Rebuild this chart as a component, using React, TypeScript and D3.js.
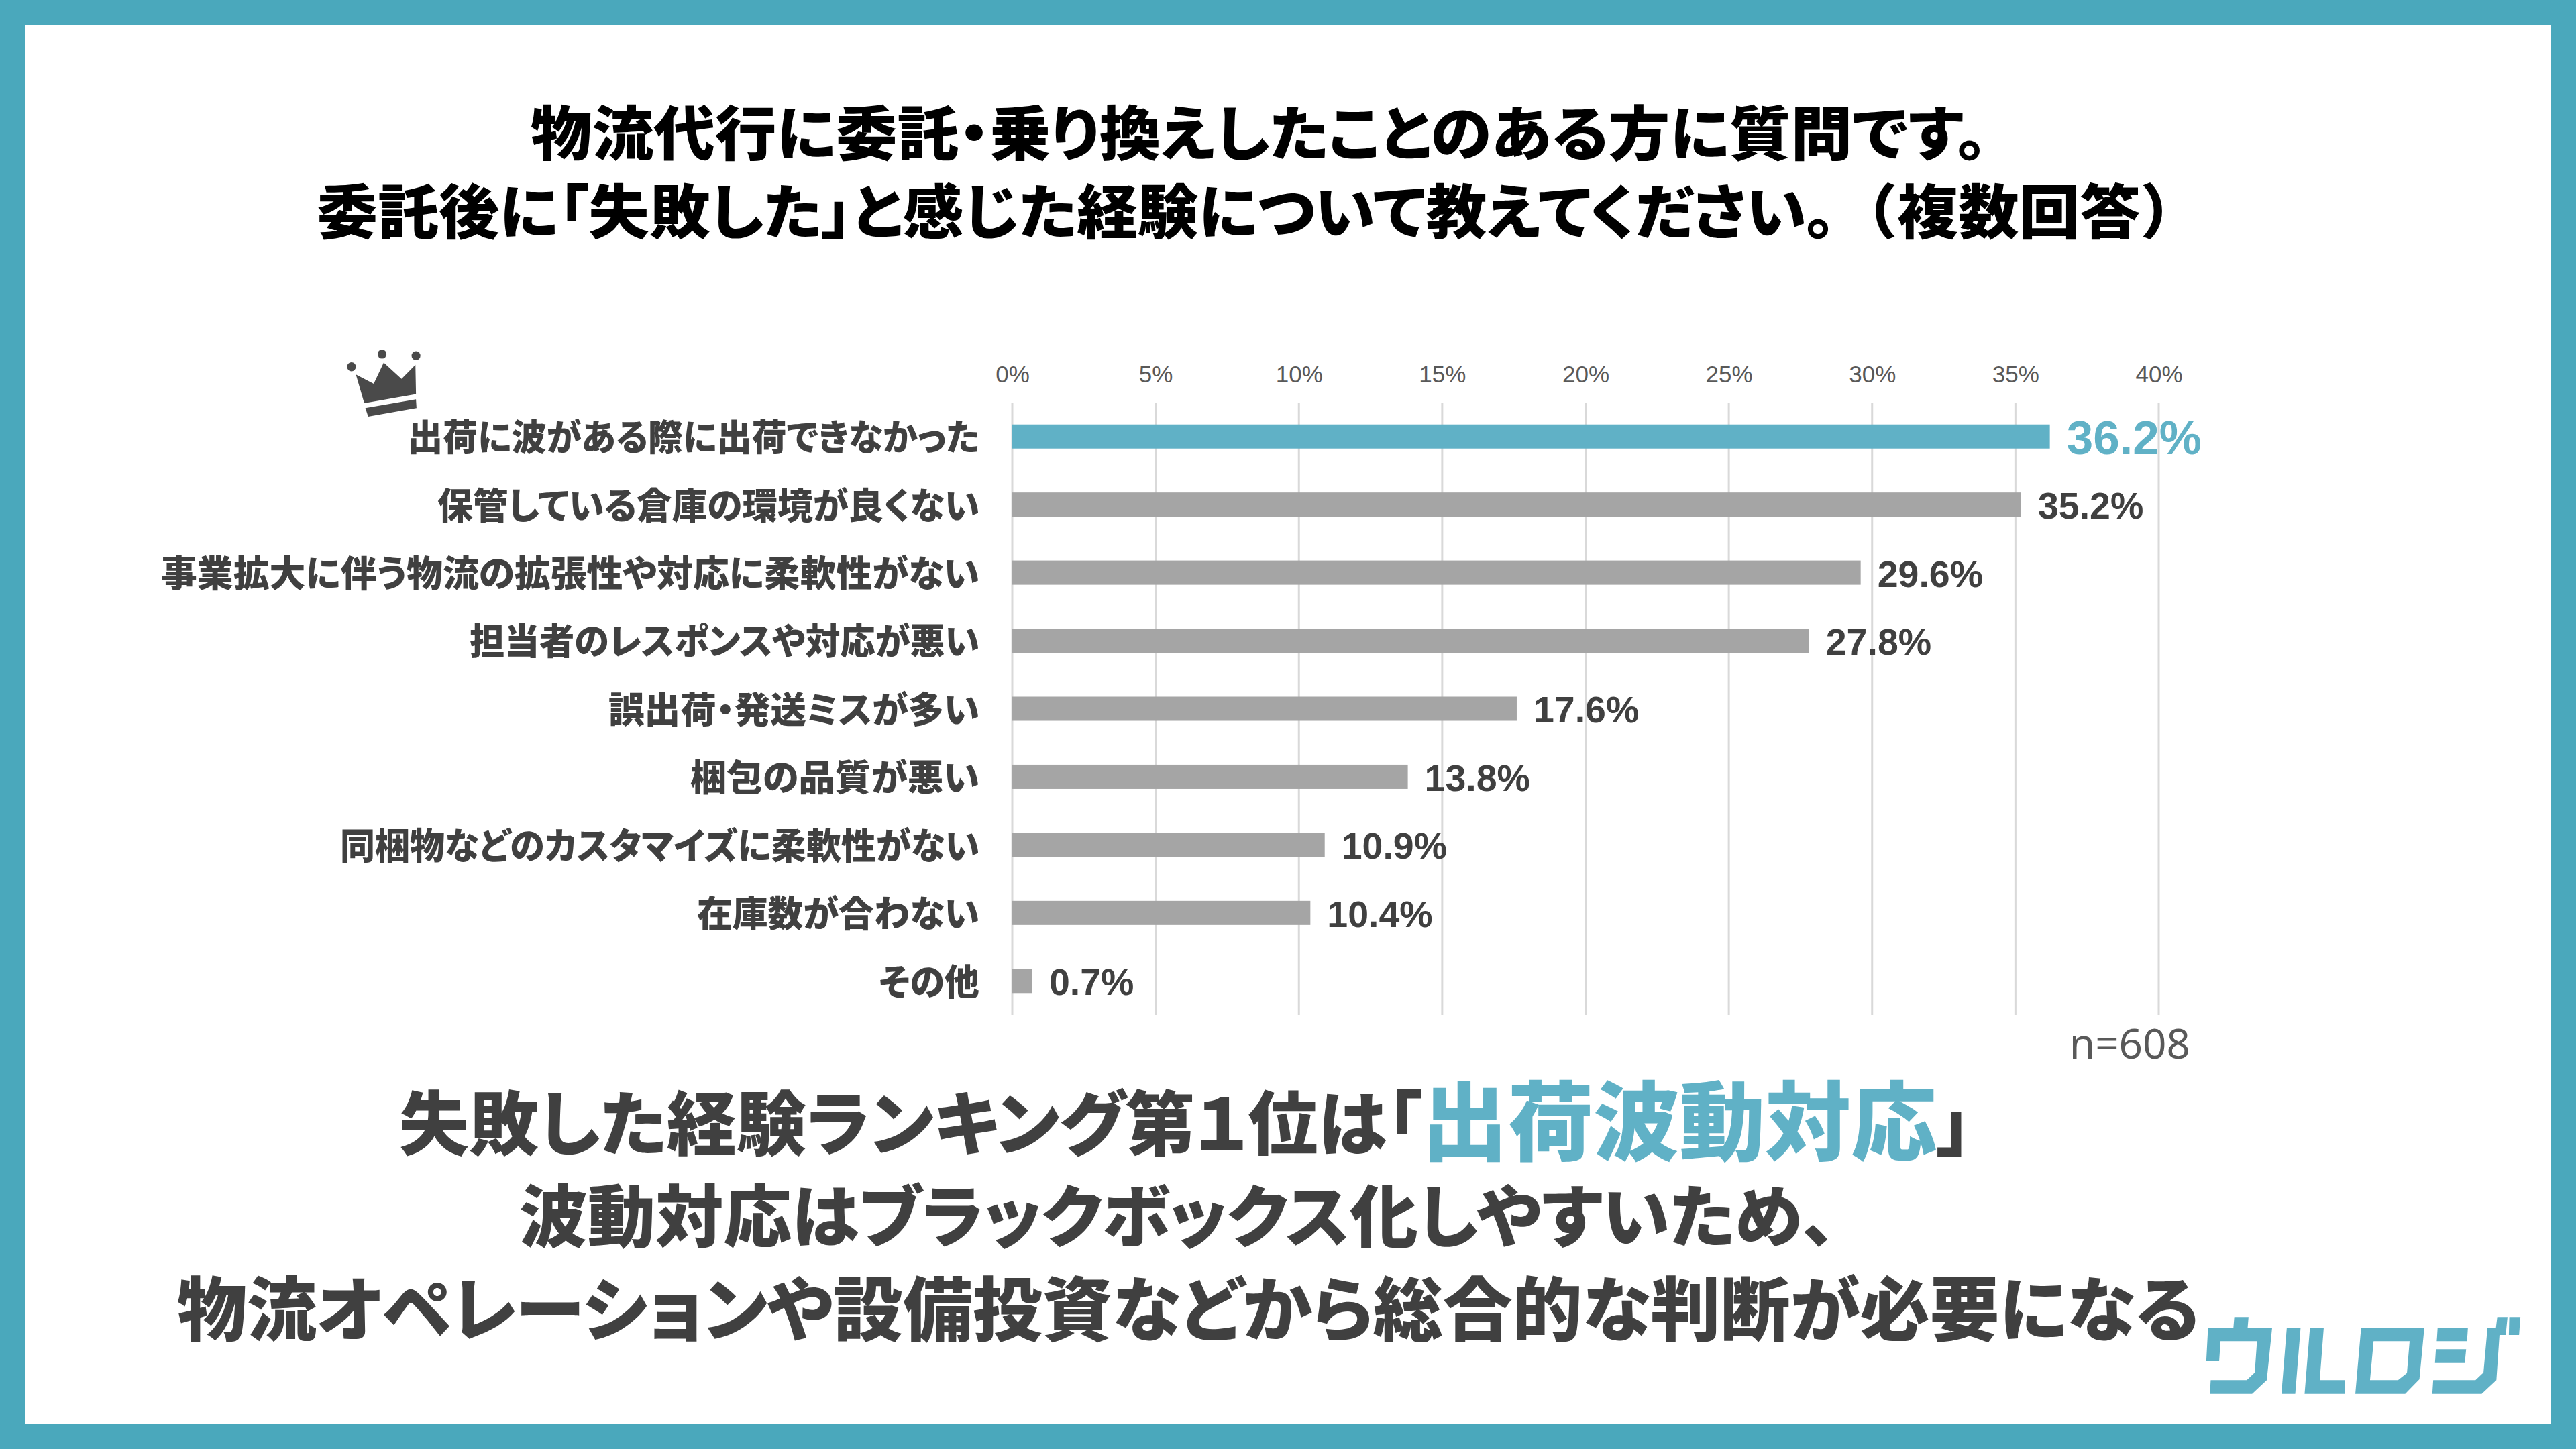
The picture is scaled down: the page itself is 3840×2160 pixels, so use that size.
import React, { useEffect, useRef } from 'react';
import * as d3 from 'd3';

const categories = [
  '出荷に波がある際に出荷できなかった',
  '保管している倉庫の環境が良くない',
  '事業拡大に伴う物流の拡張性や対応に柔軟性がない',
  '担当者のレスポンスや対応が悪い',
  '誤出荷・発送ミスが多い',
  '梱包の品質が悪い',
  '同梱物などのカスタマイズに柔軟性がない',
  '在庫数が合わない',
  'その他',
];
const values = [36.2, 35.2, 29.6, 27.8, 17.6, 13.8, 10.9, 10.4, 0.7];
const ticks = [0, 5, 10, 15, 20, 25, 30, 35, 40];
const titleLines = [
  '物流代行に委託・乗り換えしたことのある方に質問です。',
  '委託後に「失敗した」と感じた経験について教えてください。（複数回答）',
];
const takeaway = [
  '波動対応はブラックボックス化しやすいため、',
  '物流オペレーションや設備投資などから総合的な判断が必要になる',
];
const sampleNote = 'n=608';

// rendered width of each label in the reference, the font runs a bit wider than Noto on kanji
const labelWidths = [852, 808, 1220, 760, 553, 431, 953, 421, 150];

const FRAME = '#4aa8bc';
const ACCENT = '#60b1c6';
const GREY_BAR = '#a5a5a5';
const DARK = '#404040';
const JP = '"Noto Sans CJK JP", "Noto Sans", sans-serif';

const App = () => {
  const svgRef = useRef<SVGSVGElement>(null);

  useEffect(() => {
    document.body.style.margin = '0';
    const svg = d3.select(svgRef.current);
    svg.selectAll('*').remove();

    svg.append('rect').attr('width', 3840).attr('height', 2160).attr('fill', FRAME);
    svg.append('rect').attr('x', 37).attr('y', 37).attr('width', 3766).attr('height', 2085).attr('fill', '#fff');

    // title
    svg.append('text')
      .attr('x', 1877)
      .attr('y', 231)
      .attr('text-anchor', 'middle')
      .attr('textLength', 2172)
      .attr('lengthAdjust', 'spacingAndGlyphs')
      .style('font-family', JP)
      .style('font-weight', 900)
      .style('font-size', '88px')
      .style('font-feature-settings', '"palt"')
      .text(titleLines[0]);
    const title2 = svg.append('text')
      .attr('x', 1877)
      .attr('y', 348)
      .attr('text-anchor', 'middle')
      .attr('textLength', 2809)
      .attr('lengthAdjust', 'spacingAndGlyphs')
      .style('font-family', JP)
      .style('font-weight', 900)
      .style('font-size', '88px');
    title2.append('tspan').style('font-feature-settings', '"palt"').text(titleLines[1].slice(0, -7));
    title2.append('tspan').text(titleLines[1].slice(-7));

    const x = d3.scaleLinear().domain([0, 40]).range([1509, 3218]);
    const y = d3.scaleBand().domain(categories).range([600, 1513]).paddingInner(0.645).paddingOuter(0.3225);

    // axis on top with full-height gridlines
    const axis = svg.append('g')
      .attr('transform', 'translate(0,600)')
      .call(d3.axisTop(x).tickValues(ticks).tickSize(0).tickPadding(30).tickFormat(d => `${d}%`));
    axis.select('.domain').remove();
    axis.selectAll('text')
      .style('font-family', '"Liberation Sans", Arial, sans-serif')
      .style('font-size', '35px')
      .attr('fill', '#595959');

    svg.append('g')
      .selectAll('line')
      .data(ticks)
      .enter()
      .append('line')
      .attr('x1', d => x(d))
      .attr('x2', d => x(d))
      .attr('y1', 601)
      .attr('y2', 1513)
      .attr('stroke', '#d9d9d9')
      .attr('stroke-width', 3);

    // bars
    svg.append('g')
      .selectAll('rect')
      .data(values)
      .enter()
      .append('rect')
      .attr('x', x(0))
      .attr('y', (d, i) => y(categories[i]))
      .attr('width', d => x(d) - x(0))
      .attr('height', y.bandwidth())
      .attr('fill', (d, i) => (i === 0 ? ACCENT : GREY_BAR));

    // category labels
    svg.append('g')
      .selectAll('text')
      .data(categories)
      .enter()
      .append('text')
      .attr('x', 1460)
      .attr('y', d => y(d) + y.bandwidth() / 2 + 2)
      .attr('dy', '0.36em')
      .attr('text-anchor', 'end')
      .attr('textLength', (d, i) => labelWidths[i])
      .attr('lengthAdjust', 'spacingAndGlyphs')
      .attr('fill', DARK)
      .style('font-family', JP)
      .style('font-weight', 900)
      .style('font-size', '54px')
      .style('font-feature-settings', '"palt"')
      .text(d => d);

    // value labels
    svg.append('g')
      .selectAll('text')
      .data(values)
      .enter()
      .append('text')
      .attr('x', d => x(d) + 25)
      .attr('y', (d, i) => y(categories[i]) + y.bandwidth() / 2 + 1)
      .attr('dy', '0.36em')
      .attr('fill', (d, i) => (i === 0 ? ACCENT : DARK))
      .style('font-family', '"Liberation Sans", Arial, sans-serif')
      .style('font-weight', 700)
      .style('font-size', (d, i) => (i === 0 ? '71px' : '55.5px'))
      .text(d => `${d.toFixed(1)}%`);

    svg.append('text')
      .attr('x', 3265)
      .attr('y', 1578)
      .attr('text-anchor', 'end')
      .attr('fill', '#595959')
      .style('font-family', '"Noto Sans", sans-serif')
      .style('font-size', '62px')
      .text(sampleNote);

    // takeaway text
    const head = svg.append('text')
      .attr('x', 595)
      .attr('y', 1714)
      .attr('fill', DARK)
      .style('font-family', JP)
      .style('font-weight', 900)
      .style('font-size', '104px')
      .style('font-feature-settings', '"palt"');
    head.append('tspan').text('失敗した経験ランキング第１位は「');
    head.append('tspan').attr('fill', ACCENT).style('font-size', '128px').attr('dy', 6).text('出荷波動対応');
    head.append('tspan').attr('dy', -6).text('」');

    svg.selectAll('text.takeaway')
      .data(takeaway)
      .enter()
      .append('text')
      .attr('class', 'takeaway')
      .attr('x', (d, i) => (i === 0 ? 774 : 264))
      .attr('y', (d, i) => 1851 + i * 140)
      .attr('fill', DARK)
      .style('font-family', JP)
      .style('font-weight', 900)
      .style('font-size', (d, i) => (i === 0 ? '101.5px' : '104px'))
      .style('font-feature-settings', '"palt"')
      .text(d => d);

    // crown
    const crown = svg.append('g').attr('transform', 'scale(0.829,0.4847)').attr('fill', '#4a4a4a');
    crown.append('polygon').attr('points', '640,1152 672,1180 690,1115 722,1165 747,1122 748,1212 655,1240');
    crown.append('polygon').attr('points', '657,1255 748,1228 749,1255 662,1281');
    [[632, 1128], [687, 1089], [748, 1094]].forEach(([cx, cy]) => {
      crown.append('ellipse').attr('cx', cx).attr('cy', cy).attr('rx', 8).attr('ry', 14);
    });

    // logo
    const logo = svg.append('g').attr('transform', 'translate(2800,1800) scale(0.6633,0.3333)').attr('fill', ACCENT);
    [
      'M800,490L832,490L830,538L885,538L873,772L840,833L745,833L747,772L828,772L846,738L851,598L769,598L766,687L737,687L741,538L798,538Z',
      'M918,538L949,538L937,833L906,833Z',
      'M970,538L1001,538L992,772L1049,772L1048,833L958,833Z',
      'M1085,538L1227,538L1216,768L1184,833L1072,833ZM1113,598L1194,598L1188,740L1168,772L1105,772Z',
      'M1257,538L1325,538L1323,598L1255,598Z',
      'M1253,634L1321,634L1318,695L1251,695Z',
      'M1369,538L1388,538L1391,490L1414,490L1410,570L1396,570L1389,772L1356,833L1245,833L1247,772L1342,772L1360,738Z',
      'M1418,490L1443,490L1440,570L1417,570Z',
    ].forEach(p => logo.append('path').attr('d', p).attr('fill-rule', 'evenodd'));
  }, []);

  return <svg ref={svgRef} width={3840} height={2160} style={{ display: 'block' }}></svg>;
};

export default App;
